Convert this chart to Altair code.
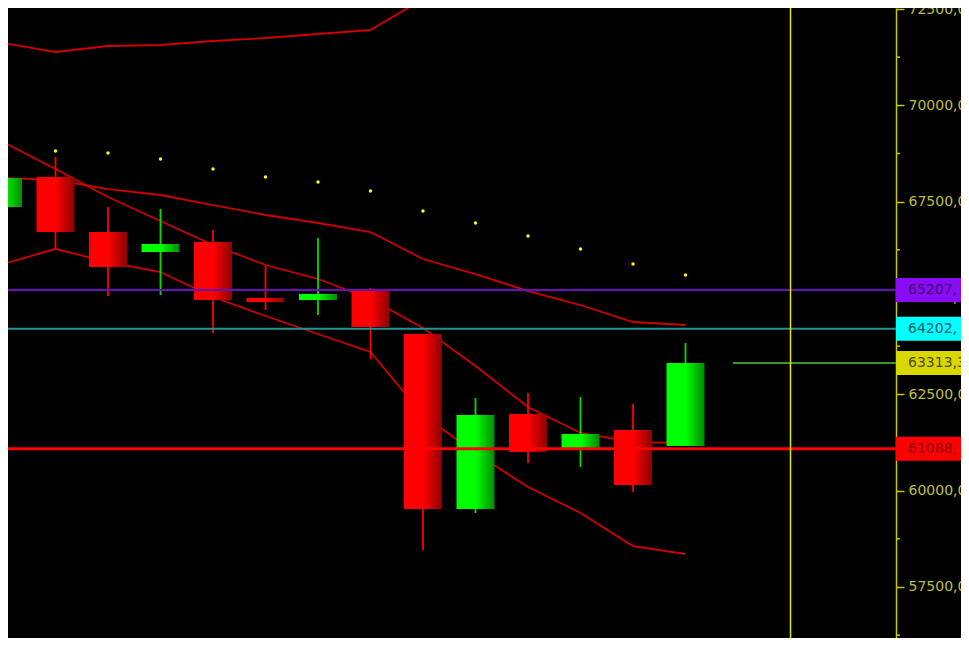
import altair as alt
import pandas as pd

# ---- data ----
idx = list(range(14))
opens = [67361, 68140, 66712, 66193, 66453, 65000, 64948, 65207, 64065, 59523, 61989, 61055, 61574, 61159]
highs = [70086, 68659, 67361, 67309, 66764, 65830, 66557, 65259, 64065, 62404, 62534, 62430, 62249, 63832]
lows = [66972, 66271, 65051, 65077, 64091, 64688, 64558, 63416, 58459, 59420, 60717, 60614, 59965, 61159]
closes = [68114, 66712, 65804, 66401, 64948, 64896, 65103, 64247, 59523, 61963, 61003, 61470, 60146, 63313.3]

upper_band = [71618, 71384, 71540, 71566, 71670, 71747, 71851, 71955, 72760, 73500, 74000, 74400, 74700, 74900]
middle_band = [68114, 68062, 67828, 67673, 67413, 67154, 66946, 66712, 66012, 65622, 65181, 64818, 64377, 64299]
fast_ma = [69048, 68348, 67621, 66998, 66375, 65856, 65493, 64974, 64221, 63235, 62171, 61496, 61262, 61236]
lower_band = [65882, 66271, 65934, 65674, 65026, 64532, 64065, 63598, 61963, 60977, 60094, 59420, 58563, 58356]
sar_dots = [68763, 68815, 68763, 68607, 68348, 68140, 68010, 67777, 67257, 66946, 66609, 66271, 65882, 65597]

level_values = [65207, 64202, 63313.3, 61088]
level_labels = ["65207,", "64202,", "63313,3", "61088,"]
tick_values = [57500, 60000, 62500, 65000, 67500, 70000, 72500]
minor_tick_values = [56250, 58750, 61250, 63750, 66250, 68750, 71250]
cursor_bar = 15
price_line_start = 13.9

X_DOMAIN = [0.0952, 17.0095]
Y_DOMAIN = [56176, 72526]

# ---- styles ----
level_styles = [
    dict(line="#6a0dbd", width=2, box="#8a0cf5", text="#3d0a6e", full=True),
    dict(line="#1e9696", width=2, box="#00ffff", text="#006060", full=True),
    dict(line="#3ccc3c", width=1.5, box="#d8d800", text="#4c4c00", full=False),
    dict(line="#ff0000", width=3, box="#ff0000", text="#8b0000", full=True),
]

xs = alt.Scale(domain=X_DOMAIN, nice=False, zero=False, padding=0)
ys = alt.Scale(domain=Y_DOMAIN, nice=False, zero=False, padding=0)
yaxis = alt.Axis(
    orient="right", values=tick_values, title=None, grid=False,
    labelExpr="replace(format(datum.value, '.2f'), '.', ',')",
    tickSize=8, tickWidth=1.5, tickColor="#c8c800",
    domainColor="#c8c800", domainWidth=1.5,
    labelColor="#bebe3c", labelFont="DejaVu Sans", labelFontSize=14,
    labelPadding=4, labelOverlap=False,
)


def X(field):
    return alt.X(field, type="quantitative", scale=xs, axis=None)


def Y(field):
    return alt.Y(field, type="quantitative", scale=ys, axis=yaxis)


df = pd.DataFrame({"i": idx, "open": opens, "high": highs, "low": lows, "close": closes})
df["dir"] = ["up" if c >= o else "down" for o, c in zip(opens, closes)]
up_df = df[df["dir"] == "up"]
down_df = df[df["dir"] == "down"]

lines_df = pd.concat([
    pd.DataFrame({"i": idx, "v": upper_band, "s": "upper"}),
    pd.DataFrame({"i": idx, "v": middle_band, "s": "middle"}),
    pd.DataFrame({"i": idx, "v": fast_ma, "s": "fast"}),
    pd.DataFrame({"i": idx, "v": lower_band, "s": "lower"}),
])
sar_df = pd.DataFrame({"i": idx, "v": sar_dots})
minor_df = pd.DataFrame({"v": minor_tick_values})

red_grad = alt.LinearGradient(
    gradient="linear", x1=0, x2=1, y1=0, y2=0,
    stops=[alt.GradientStop(color="#ff0000", offset=0),
           alt.GradientStop(color="#ff0000", offset=0.5),
           alt.GradientStop(color="#8c0000", offset=1)])
green_grad = alt.LinearGradient(
    gradient="linear", x1=0, x2=1, y1=0, y2=0,
    stops=[alt.GradientStop(color="#00ff00", offset=0),
           alt.GradientStop(color="#00ff00", offset=0.5),
           alt.GradientStop(color="#008c00", offset=1)])

band_lines = alt.Chart(lines_df).mark_line(color="#d00000", strokeWidth=1.8, clip=True).encode(
    x=X("i"), y=Y("v"), detail="s:N")

wicks = alt.Chart(df).mark_rule(strokeWidth=1.8, clip=True).encode(
    x=X("i"), y=Y("low"), y2="high",
    color=alt.Color("dir:N", scale=alt.Scale(domain=["up", "down"], range=["#00dd00", "#ff0000"]), legend=None))

red_bodies = alt.Chart(down_df).mark_bar(size=38, fill=red_grad, clip=True).encode(
    x=X("i"), y=Y("open"), y2="close")
green_bodies = alt.Chart(up_df).mark_bar(size=38, fill=green_grad, clip=True).encode(
    x=X("i"), y=Y("open"), y2="close")

dots = alt.Chart(sar_df).mark_circle(size=12, color="#ffff00", opacity=1, clip=True).encode(
    x=X("i"), y=Y("v"))

minor_ticks = alt.Chart(minor_df).mark_rule(color="#c8c800", strokeWidth=1.5, clip=False).encode(
    y=Y("v"), x=alt.value(888), x2=alt.value(892))

layers = [band_lines, wicks, red_bodies, green_bodies, dots, minor_ticks]

for v, lab, st in zip(level_values, level_labels, level_styles):
    ld = pd.DataFrame({"v": [v], "lab": [lab]})
    if st["full"]:
        rule = alt.Chart(ld).mark_rule(color=st["line"], strokeWidth=st["width"]).encode(y=Y("v"))
    else:
        rule = alt.Chart(ld).mark_rule(color=st["line"], strokeWidth=st["width"]).encode(
            y=Y("v"), x=alt.X(datum=price_line_start, type="quantitative", scale=xs, axis=None),
            x2=alt.datum(X_DOMAIN[1]))
    box = alt.Chart(ld).mark_rect(height=24, fill=st["box"], clip=False).encode(
        y=Y("v"), x=alt.value(888), x2=alt.value(975))
    txt = alt.Chart(ld).mark_text(align="left", baseline="middle", font="DejaVu Sans", fontSize=14,
                                  color=st["text"], clip=False).encode(
        y=Y("v"), x=alt.value(900), text="lab:N")
    layers += [rule, box, txt]

cursor = alt.Chart(pd.DataFrame({"c": [cursor_bar]})).mark_rule(color="#e6e600", strokeWidth=1.5).encode(
    x=X("c"))
layers.append(cursor)

chart = alt.layer(*layers).properties(
    width=888, height=630,
    background="#000000",
    padding={"left": 0, "top": 0, "right": 65, "bottom": 0},
    autosize=alt.AutoSizeParams(type="none"),
).configure_view(strokeWidth=0)

chart.save("out.html", embed_options={"renderer": "svg", "actions": False})
